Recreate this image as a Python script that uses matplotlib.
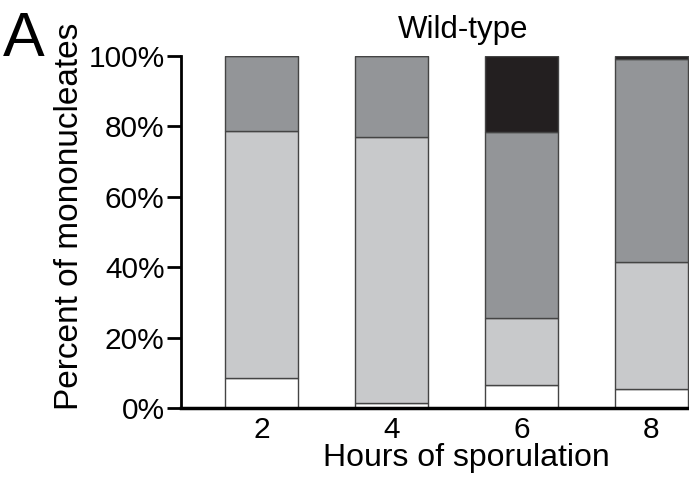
import matplotlib.pyplot as plt
import numpy as np

plt.rcParams['font.family'] = ['Liberation Sans', 'DejaVu Sans']

# 데이터
hours = ['2', '4', '6', '8']
white = [8.4, 1.3, 6.4, 5.5]
light = [70.3, 75.6, 19.1, 36.0]
mid = [21.3, 23.1, 53.0, 57.5]
black = [0.0, 0.0, 21.5, 1.0]

fig = plt.figure(figsize=(6.89, 4.78), dpi=100)
ax = fig.add_axes([0.263, 0.1464, 0.737, 0.7366])

x = np.arange(len(hours))
w = 0.56
bottom = np.zeros(len(hours))
for vals, col in [(white, 'white'), (light, '#c8c9cb'), (mid, '#939598'), (black, '#231f20')]:
    ax.bar(x, vals, w, bottom=bottom, color=col, edgecolor='#444444', linewidth=1)
    bottom += np.array(vals)

ax.set_xlim(-0.62, 3.29)
ax.set_ylim(0, 100)
ax.set_yticks([0, 20, 40, 60, 80, 100])
ax.set_yticklabels(['0%', '20%', '40%', '60%', '80%', '100%'], fontsize=21.5)
ax.set_xticks(x)
ax.set_xticklabels(hours, fontsize=21.5)
ax.tick_params(axis='y', length=10, width=2, pad=2)
ax.tick_params(axis='x', length=0, pad=6)
for s in ['top', 'right']:
    ax.spines[s].set_visible(False)
ax.spines['left'].set_linewidth(2)
ax.spines['bottom'].set_linewidth(2.5)

ax.set_ylabel('Percent of mononucleates', fontsize=24)
ax.yaxis.set_label_coords(-0.19, 0.545)
ax.set_xlabel('Hours of sporulation', fontsize=23)
ax.xaxis.set_label_coords(0.561, -0.1)
fig.text(463 / 689, 1 - 30 / 478, 'Wild-type', fontsize=22.5, ha='center', va='center')
fig.text(0.004, 0.98, 'A', fontsize=45, va='top')

plt.savefig('out.png', dpi=100)
